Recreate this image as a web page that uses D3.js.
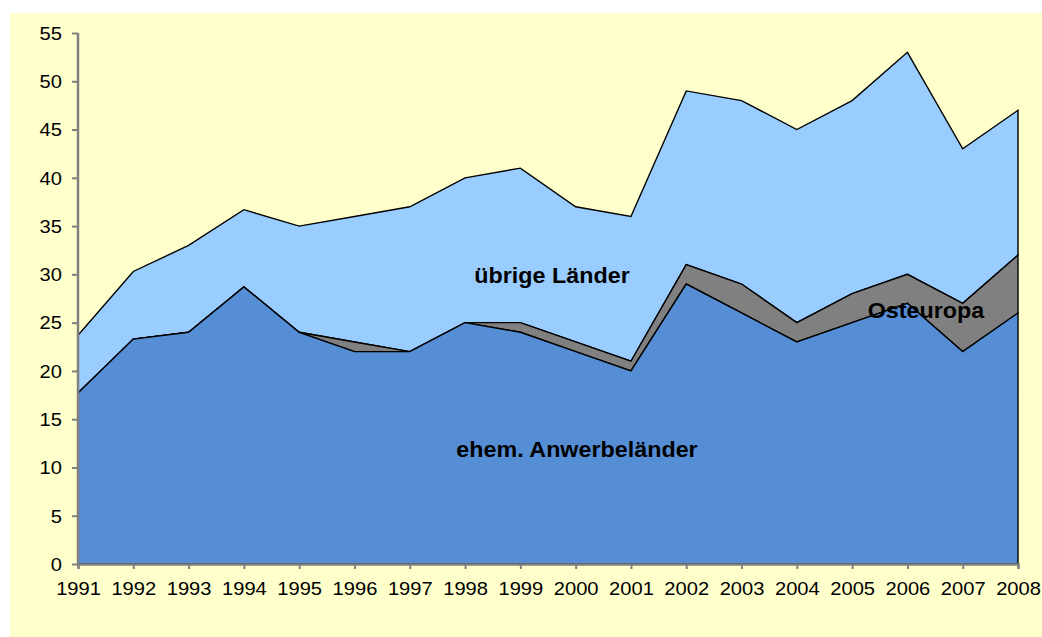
<!DOCTYPE html>
<html lang="de">
<head>
<meta charset="UTF-8">
<title>Zuwanderung nach Herkunft</title>
<style>
  body { margin: 0; background: #fff; }
  svg text { font-family: "Liberation Sans", Arial, sans-serif; }
</style>
</head>
<body>
<div id="chart"></div>
<script src="https://d3js.org/d3.v7.min.js"></script>
<script>
// data
const years = [1991, 1992, 1993, 1994, 1995, 1996, 1997, 1998, 1999, 2000,
               2001, 2002, 2003, 2004, 2005, 2006, 2007, 2008];
const anwerbe = [17.7, 23.3, 24, 28.7, 24, 22, 22, 25, 24, 22, 20, 29, 26, 23, 25, 27, 22, 26];
const osteuropa = [0, 0, 0, 0, 0, 1, 0, 0, 1, 1, 1, 2, 3, 2, 3, 3, 5, 6];
const uebrige = [6, 7, 9, 8, 11, 13, 15, 15, 16, 14, 15, 18, 19, 20, 20, 23, 16, 15];
const yTicks = [0, 5, 10, 15, 20, 25, 30, 35, 40, 45, 50, 55];

const seriesNames = ["ehem. Anwerbeländer", "Osteuropa", "übrige Länder"];
const seriesColors = ["#558ED5", "#808080", "#99CCFF"];

const W = 1042, H = 637;
const margin = {left: 78, right: 24, top: 33, bottom: 73};

const svg = d3.select("#chart").append("svg")
    .attr("width", W)
    .attr("height", H);

// yellow chart background
svg.append("rect")
    .attr("x", 10).attr("y", 13)
    .attr("width", W - 10).attr("height", H - 13)
    .attr("fill", "#FFFFCC");

const x = d3.scaleLinear()
    .domain([1991, 2008])
    .range([margin.left, W - margin.right]);
const y = d3.scaleLinear()
    .domain([0, 55])
    .range([H - margin.bottom, margin.top]);

const table = years.map((yr, i) => ({
    year: yr,
    a: anwerbe[i],
    o: osteuropa[i],
    u: uebrige[i]
}));
const stacked = d3.stack().keys(["a", "o", "u"])(table);

const area = d3.area()
    .x(d => x(d.data.year))
    .y0(d => y(d[0]))
    .y1(d => y(d[1]));

// draw top series first so the lower ones' outlines stay visible
svg.append("g").selectAll("path")
  .data(stacked.slice().reverse())
  .join("path")
    .attr("d", area)
    .attr("fill", d => seriesColors[d.index])
    .attr("stroke", "#000")
    .attr("stroke-width", 1.4)
    .attr("stroke-linejoin", "miter");

// axes
const yAxis = svg.append("g")
    .attr("transform", `translate(${margin.left},0)`)
    .call(d3.axisLeft(y).tickValues(yTicks).tickSize(6));
const xAxis = svg.append("g")
    .attr("transform", `translate(0,${H - margin.bottom})`)
    .call(d3.axisBottom(x).tickValues(years).tickFormat(d3.format("d")).tickSize(5));

[yAxis, xAxis].forEach(g => {
  g.select(".domain").attr("stroke", "#808080").attr("stroke-width", 2.5);
  g.selectAll(".tick line").attr("stroke", "#808080").attr("stroke-width", 2);
  g.selectAll(".tick text")
    .attr("fill", "#000")
    .style("font-size", "17.5px")
    .style("font-family", "'Liberation Sans', Arial, sans-serif");
});
yAxis.select(".domain").attr("d", `M0,${y(0)}V${y(55)}`);
// the original font is a bit wider than Arial, stretch it horizontally
yAxis.selectAll(".tick text")
    .attr("x", 0).attr("dy", "0.36em")
    .attr("transform", "translate(-16,0) scale(1.15,1)");
xAxis.selectAll(".tick text")
    .attr("y", 0).attr("dy", "0.71em")
    .attr("transform", "translate(0,19) scale(1.15,1)");

// series labels inside the areas
const labels = [
  {text: seriesNames[2], x: 552, y: 283},
  {text: seriesNames[0], x: 577, y: 457},
  {text: seriesNames[1], x: 926, y: 318}
];
svg.append("g").selectAll("text")
  .data(labels)
  .join("text")
    .attr("transform", d => `translate(${d.x},${d.y}) scale(1.06,1)`)
    .attr("text-anchor", "middle")
    .style("font-size", "22px")
    .style("font-weight", "bold")
    .attr("fill", "#000")
    .text(d => d.text);
</script>
</body>
</html>
